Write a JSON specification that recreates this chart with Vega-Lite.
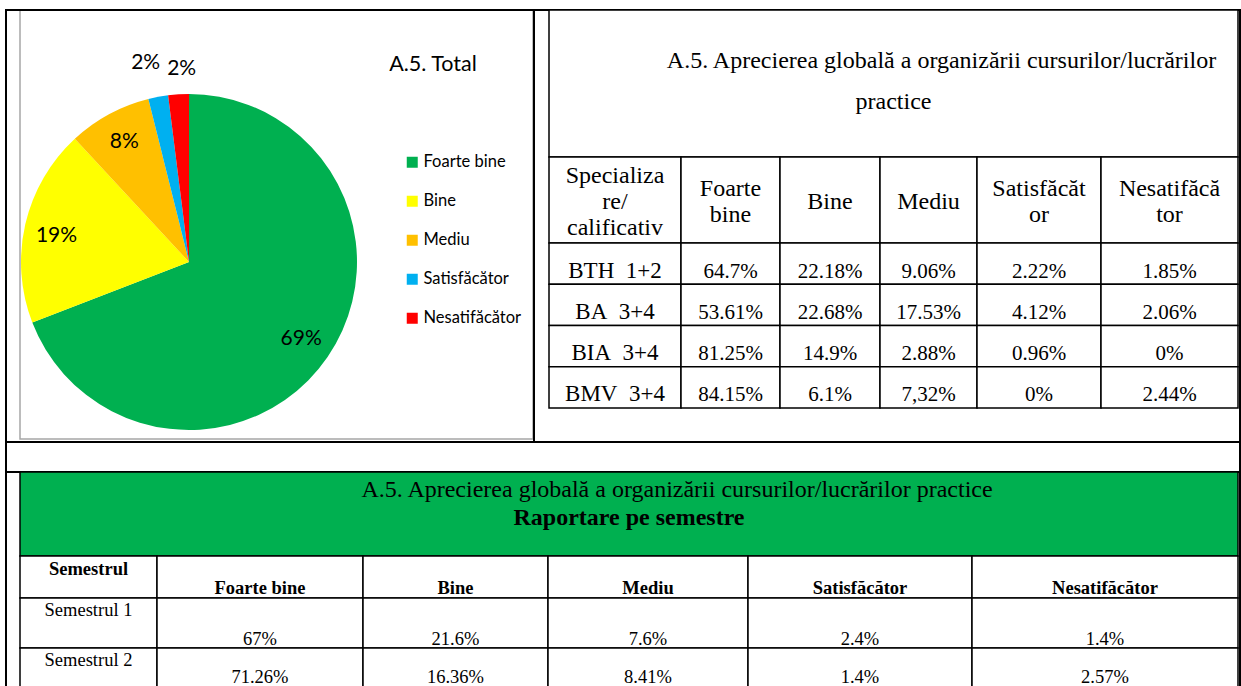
{
  "$schema": "https://vega.github.io/schema/vega-lite/v6.json",
  "width": 1241,
  "height": 686,
  "padding": 0,
  "autosize": {"type": "none"},
  "background": "white",
  "config": {"view": {"stroke": null}, "axis": {"disable": true}},
  "datasets": {
    "pie": [
      {"cat": "Foarte bine", "value": 69.13, "label": "69%", "ord": 1},
      {"cat": "Bine", "value": 18.98, "label": "19%", "ord": 2},
      {"cat": "Mediu", "value": 8.005, "label": "8%", "ord": 3},
      {"cat": "Satisfăcător", "value": 1.9, "label": "2%", "ord": 4},
      {"cat": "Nesatifăcător", "value": 1.985, "label": "2%", "ord": 5}
    ],
    "cells": [
      {"tbl": "R", "col": "Specializare/calificativ", "row": "hdr", "txt": "Specializa\nre/\ncalificativ"},
      {"tbl": "R", "col": "Foarte bine", "row": "hdr", "txt": "Foarte\nbine"},
      {"tbl": "R", "col": "Bine", "row": "hdr", "txt": "Bine"},
      {"tbl": "R", "col": "Mediu", "row": "hdr", "txt": "Mediu"},
      {"tbl": "R", "col": "Satisfăcător", "row": "hdr", "txt": "Satisfăcăt\nor"},
      {"tbl": "R", "col": "Nesatifăcător", "row": "hdr", "txt": "Nesatifăcă\ntor"},
      {"tbl": "R", "col": "Specializare/calificativ", "row": "BTH 1+2", "txt": "BTH\u00a0\u00a01+2"},
      {"tbl": "R", "col": "Foarte bine", "row": "BTH 1+2", "txt": "64.7%"},
      {"tbl": "R", "col": "Bine", "row": "BTH 1+2", "txt": "22.18%"},
      {"tbl": "R", "col": "Mediu", "row": "BTH 1+2", "txt": "9.06%"},
      {"tbl": "R", "col": "Satisfăcător", "row": "BTH 1+2", "txt": "2.22%"},
      {"tbl": "R", "col": "Nesatifăcător", "row": "BTH 1+2", "txt": "1.85%"},
      {"tbl": "R", "col": "Specializare/calificativ", "row": "BA 3+4", "txt": "BA\u00a0\u00a03+4"},
      {"tbl": "R", "col": "Foarte bine", "row": "BA 3+4", "txt": "53.61%"},
      {"tbl": "R", "col": "Bine", "row": "BA 3+4", "txt": "22.68%"},
      {"tbl": "R", "col": "Mediu", "row": "BA 3+4", "txt": "17.53%"},
      {"tbl": "R", "col": "Satisfăcător", "row": "BA 3+4", "txt": "4.12%"},
      {"tbl": "R", "col": "Nesatifăcător", "row": "BA 3+4", "txt": "2.06%"},
      {"tbl": "R", "col": "Specializare/calificativ", "row": "BIA 3+4", "txt": "BIA\u00a0\u00a03+4"},
      {"tbl": "R", "col": "Foarte bine", "row": "BIA 3+4", "txt": "81.25%"},
      {"tbl": "R", "col": "Bine", "row": "BIA 3+4", "txt": "14.9%"},
      {"tbl": "R", "col": "Mediu", "row": "BIA 3+4", "txt": "2.88%"},
      {"tbl": "R", "col": "Satisfăcător", "row": "BIA 3+4", "txt": "0.96%"},
      {"tbl": "R", "col": "Nesatifăcător", "row": "BIA 3+4", "txt": "0%"},
      {"tbl": "R", "col": "Specializare/calificativ", "row": "BMV 3+4", "txt": "BMV\u00a0\u00a03+4"},
      {"tbl": "R", "col": "Foarte bine", "row": "BMV 3+4", "txt": "84.15%"},
      {"tbl": "R", "col": "Bine", "row": "BMV 3+4", "txt": "6.1%"},
      {"tbl": "R", "col": "Mediu", "row": "BMV 3+4", "txt": "7,32%"},
      {"tbl": "R", "col": "Satisfăcător", "row": "BMV 3+4", "txt": "0%"},
      {"tbl": "R", "col": "Nesatifăcător", "row": "BMV 3+4", "txt": "2.44%"},
      {"tbl": "S", "col": "Semestrul", "row": "hdr", "txt": "Semestrul"},
      {"tbl": "S", "col": "Foarte bine", "row": "hdr", "txt": "Foarte bine"},
      {"tbl": "S", "col": "Bine", "row": "hdr", "txt": "Bine"},
      {"tbl": "S", "col": "Mediu", "row": "hdr", "txt": "Mediu"},
      {"tbl": "S", "col": "Satisfăcător", "row": "hdr", "txt": "Satisfăcător"},
      {"tbl": "S", "col": "Nesatifăcător", "row": "hdr", "txt": "Nesatifăcător"},
      {"tbl": "S", "col": "Semestrul", "row": "Semestrul 1", "txt": "Semestrul 1"},
      {"tbl": "S", "col": "Foarte bine", "row": "Semestrul 1", "txt": "67%"},
      {"tbl": "S", "col": "Bine", "row": "Semestrul 1", "txt": "21.6%"},
      {"tbl": "S", "col": "Mediu", "row": "Semestrul 1", "txt": "7.6%"},
      {"tbl": "S", "col": "Satisfăcător", "row": "Semestrul 1", "txt": "2.4%"},
      {"tbl": "S", "col": "Nesatifăcător", "row": "Semestrul 1", "txt": "1.4%"},
      {"tbl": "S", "col": "Semestrul", "row": "Semestrul 2", "txt": "Semestrul 2"},
      {"tbl": "S", "col": "Foarte bine", "row": "Semestrul 2", "txt": "71.26%"},
      {"tbl": "S", "col": "Bine", "row": "Semestrul 2", "txt": "16.36%"},
      {"tbl": "S", "col": "Mediu", "row": "Semestrul 2", "txt": "8.41%"},
      {"tbl": "S", "col": "Satisfăcător", "row": "Semestrul 2", "txt": "1.4%"},
      {"tbl": "S", "col": "Nesatifăcător", "row": "Semestrul 2", "txt": "2.57%"}
    ]
  },
  "resolve": {"scale": {"x": "independent", "y": "independent", "theta": "independent", "color": "independent"}},
  "layer": [
    {
      "data": {"values": [{}]},
      "mark": {"type": "rect", "fill": "white", "stroke": "#A6A6A6", "strokeWidth": 1.5},
      "encoding": {
        "x": {"datum": "box", "type": "nominal", "scale": {"range": [20, 533], "padding": 0}},
        "y": {"datum": "box", "type": "nominal", "scale": {"range": [10, 439], "padding": 0}}
      }
    },
    {
      "data": {"name": "pie"},
      "encoding": {
        "x": {"datum": "pie", "type": "nominal", "scale": {"range": [21, 357], "padding": 0}},
        "y": {"datum": "pie", "type": "nominal", "scale": {"range": [94, 430], "padding": 0}},
        "theta": {"field": "value", "type": "quantitative", "stack": true},
        "order": {"field": "ord", "type": "quantitative"}
      },
      "layer": [
        {
          "mark": {"type": "arc", "outerRadius": 168},
          "encoding": {
            "color": {
              "field": "cat", "type": "nominal",
              "sort": ["Foarte bine", "Bine", "Mediu", "Satisfăcător", "Nesatifăcător"],
              "scale": {"domain": ["Foarte bine", "Bine", "Mediu", "Satisfăcător", "Nesatifăcător"], "range": ["#00B050", "#FFFF00", "#FFC000", "#00B0F0", "#FF0000"]},
              "legend": {"orient": "none", "legendX": 404, "legendY": 154, "title": null, "symbolType": "square", "symbolSize": 121, "symbolStrokeWidth": 0, "labelFont": "Lato", "labelFontSize": 16.5, "labelColor": "black", "rowPadding": 22, "labelOffset": 3}
            }
          }
        },
        {
          "mark": {
            "type": "text",
            "radius": {"expr": "datum.value < 5 ? 198 : 136"},
            "dx": {"expr": "datum.cat == 'Satisfăcător' ? -7 : (datum.cat == 'Nesatifăcător' ? 5 : 0)"},
            "dy": {"expr": "datum.cat == 'Satisfăcător' ? -4 : (datum.cat == 'Nesatifăcător' ? 5 : (datum.cat == 'Bine' ? 5 : 0))"},
            "font": "Lato", "fontSize": 21
          },
          "encoding": {
            "text": {"field": "label"},
            "detail": {"field": "cat"},
            "color": {"value": "black"}
          }
        }
      ]
    },
    {
      "data": {"values": [{}]},
      "mark": {"type": "text", "text": "A.5. Total", "font": "Lato", "fontSize": 21.5, "fill": "black"},
      "encoding": {
        "x": {"datum": "t", "type": "nominal", "scale": {"range": [387, 479], "padding": 0}},
        "y": {"datum": "t", "type": "nominal", "scale": {"range": [50, 80], "padding": 0}}
      }
    },
    {
      "data": {"values": [{}]},
      "mark": {"type": "rect", "fill": "transparent", "stroke": "black", "strokeWidth": 2},
      "encoding": {
        "x": {"datum": "A", "type": "nominal", "scale": {"range": [6, 534], "padding": 0}},
        "y": {"datum": "A", "type": "nominal", "scale": {"range": [10, 442], "padding": 0}}
      }
    },
    {
      "data": {"values": [{}]},
      "mark": {"type": "rect", "fill": "transparent", "stroke": "black", "strokeWidth": 2},
      "encoding": {
        "x": {"datum": "B", "type": "nominal", "scale": {"range": [534, 1240], "padding": 0}},
        "y": {"datum": "B", "type": "nominal", "scale": {"range": [10, 442], "padding": 0}}
      }
    },
    {
      "data": {"values": [{}]},
      "mark": {"type": "rect", "fill": "transparent", "stroke": "black", "strokeWidth": 2},
      "encoding": {
        "x": {"datum": "C", "type": "nominal", "scale": {"range": [6, 1240], "padding": 0}},
        "y": {"datum": "C", "type": "nominal", "scale": {"range": [442, 472], "padding": 0}}
      }
    },
    {
      "data": {"values": [{}]},
      "mark": {"type": "rect", "fill": "transparent", "stroke": "black", "strokeWidth": 2},
      "encoding": {
        "x": {"datum": "D", "type": "nominal", "scale": {"range": [6, 1240], "padding": 0}},
        "y": {"datum": "D", "type": "nominal", "scale": {"range": [472, 720], "padding": 0}}
      }
    },
    {
      "data": {"values": [{}]},
      "encoding": {
        "x": {"datum": "RT", "type": "nominal", "scale": {"range": [549, 1238], "padding": 0}},
        "y": {"datum": "RT", "type": "nominal", "scale": {"range": [10, 157], "padding": 0}}
      },
      "layer": [
        {"mark": {"type": "rect", "fill": "white", "stroke": "black", "strokeWidth": 1.5}},
        {"mark": {"type": "text", "text": "A.5. Aprecierea globală a organizării cursurilor/lucrărilor", "font": "Liberation Serif", "fontSize": 24, "fill": "black", "dx": 48, "dy": -23}},
        {"mark": {"type": "text", "text": "practice", "font": "Liberation Serif", "fontSize": 24, "fill": "black", "dy": 18}}
      ]
    },
    {
      "data": {"name": "cells"},
      "transform": [{"filter": "datum.tbl == 'R' && datum.col == 'Specializare/calificativ'"}],
      "encoding": {"x": {"field": "col", "type": "nominal", "scale": {"range": [549, 681], "padding": 0}}},
      "layer": [
        {"transform": [{"filter": "datum.row == 'hdr'"}], "encoding": {"y": {"field": "row", "type": "nominal", "scale": {"range": [157, 243], "padding": 0}}},
         "layer": [
           {"mark": {"type": "rect", "fill": "white", "stroke": "black", "strokeWidth": 1.5}},
           {"mark": {"type": "text", "font": "Liberation Serif", "fontSize": 24, "lineBreak": "\n", "lineHeight": 26, "dy": -24, "fill": "black"}, "encoding": {"text": {"field": "txt"}}}
         ]},
        {"transform": [{"filter": "datum.row != 'hdr'"}], "encoding": {"y": {"field": "row", "type": "nominal", "sort": null, "scale": {"range": [243, 408], "padding": 0}}},
         "layer": [
           {"mark": {"type": "rect", "fill": "white", "stroke": "black", "strokeWidth": 1.5}},
           {"mark": {"type": "text", "font": "Liberation Serif", "fontSize": 23, "dy": 7, "fill": "black"}, "encoding": {"text": {"field": "txt"}}}
         ]}
      ],
      "resolve": {"scale": {"y": "independent"}}
    },
    {
      "data": {"name": "cells"},
      "transform": [{"filter": "datum.tbl == 'R' && datum.col == 'Foarte bine'"}],
      "encoding": {"x": {"field": "col", "type": "nominal", "scale": {"range": [681, 780], "padding": 0}}},
      "layer": [
        {"transform": [{"filter": "datum.row == 'hdr'"}], "encoding": {"y": {"field": "row", "type": "nominal", "scale": {"range": [157, 243], "padding": 0}}},
         "layer": [
           {"mark": {"type": "rect", "fill": "white", "stroke": "black", "strokeWidth": 1.5}},
           {"mark": {"type": "text", "font": "Liberation Serif", "fontSize": 24, "lineBreak": "\n", "lineHeight": 26, "dy": -11, "fill": "black"}, "encoding": {"text": {"field": "txt"}}}
         ]},
        {"transform": [{"filter": "datum.row != 'hdr'"}], "encoding": {"y": {"field": "row", "type": "nominal", "sort": null, "scale": {"range": [243, 408], "padding": 0}}},
         "layer": [
           {"mark": {"type": "rect", "fill": "white", "stroke": "black", "strokeWidth": 1.5}},
           {"mark": {"type": "text", "font": "Liberation Serif", "fontSize": 21, "dy": 8, "fill": "black"}, "encoding": {"text": {"field": "txt"}}}
         ]}
      ],
      "resolve": {"scale": {"y": "independent"}}
    },
    {
      "data": {"name": "cells"},
      "transform": [{"filter": "datum.tbl == 'R' && datum.col == 'Bine'"}],
      "encoding": {"x": {"field": "col", "type": "nominal", "scale": {"range": [780, 880], "padding": 0}}},
      "layer": [
        {"transform": [{"filter": "datum.row == 'hdr'"}], "encoding": {"y": {"field": "row", "type": "nominal", "scale": {"range": [157, 243], "padding": 0}}},
         "layer": [
           {"mark": {"type": "rect", "fill": "white", "stroke": "black", "strokeWidth": 1.5}},
           {"mark": {"type": "text", "font": "Liberation Serif", "fontSize": 24, "lineBreak": "\n", "lineHeight": 26, "dy": 2, "fill": "black"}, "encoding": {"text": {"field": "txt"}}}
         ]},
        {"transform": [{"filter": "datum.row != 'hdr'"}], "encoding": {"y": {"field": "row", "type": "nominal", "sort": null, "scale": {"range": [243, 408], "padding": 0}}},
         "layer": [
           {"mark": {"type": "rect", "fill": "white", "stroke": "black", "strokeWidth": 1.5}},
           {"mark": {"type": "text", "font": "Liberation Serif", "fontSize": 21, "dy": 8, "fill": "black"}, "encoding": {"text": {"field": "txt"}}}
         ]}
      ],
      "resolve": {"scale": {"y": "independent"}}
    },
    {
      "data": {"name": "cells"},
      "transform": [{"filter": "datum.tbl == 'R' && datum.col == 'Mediu'"}],
      "encoding": {"x": {"field": "col", "type": "nominal", "scale": {"range": [880, 977], "padding": 0}}},
      "layer": [
        {"transform": [{"filter": "datum.row == 'hdr'"}], "encoding": {"y": {"field": "row", "type": "nominal", "scale": {"range": [157, 243], "padding": 0}}},
         "layer": [
           {"mark": {"type": "rect", "fill": "white", "stroke": "black", "strokeWidth": 1.5}},
           {"mark": {"type": "text", "font": "Liberation Serif", "fontSize": 24, "lineBreak": "\n", "lineHeight": 26, "dy": 2, "fill": "black"}, "encoding": {"text": {"field": "txt"}}}
         ]},
        {"transform": [{"filter": "datum.row != 'hdr'"}], "encoding": {"y": {"field": "row", "type": "nominal", "sort": null, "scale": {"range": [243, 408], "padding": 0}}},
         "layer": [
           {"mark": {"type": "rect", "fill": "white", "stroke": "black", "strokeWidth": 1.5}},
           {"mark": {"type": "text", "font": "Liberation Serif", "fontSize": 21, "dy": 8, "fill": "black"}, "encoding": {"text": {"field": "txt"}}}
         ]}
      ],
      "resolve": {"scale": {"y": "independent"}}
    },
    {
      "data": {"name": "cells"},
      "transform": [{"filter": "datum.tbl == 'R' && datum.col == 'Satisfăcător'"}],
      "encoding": {"x": {"field": "col", "type": "nominal", "scale": {"range": [977, 1101], "padding": 0}}},
      "layer": [
        {"transform": [{"filter": "datum.row == 'hdr'"}], "encoding": {"y": {"field": "row", "type": "nominal", "scale": {"range": [157, 243], "padding": 0}}},
         "layer": [
           {"mark": {"type": "rect", "fill": "white", "stroke": "black", "strokeWidth": 1.5}},
           {"mark": {"type": "text", "font": "Liberation Serif", "fontSize": 24, "lineBreak": "\n", "lineHeight": 26, "dy": -11, "fill": "black"}, "encoding": {"text": {"field": "txt"}}}
         ]},
        {"transform": [{"filter": "datum.row != 'hdr'"}], "encoding": {"y": {"field": "row", "type": "nominal", "sort": null, "scale": {"range": [243, 408], "padding": 0}}},
         "layer": [
           {"mark": {"type": "rect", "fill": "white", "stroke": "black", "strokeWidth": 1.5}},
           {"mark": {"type": "text", "font": "Liberation Serif", "fontSize": 21, "dy": 8, "fill": "black"}, "encoding": {"text": {"field": "txt"}}}
         ]}
      ],
      "resolve": {"scale": {"y": "independent"}}
    },
    {
      "data": {"name": "cells"},
      "transform": [{"filter": "datum.tbl == 'R' && datum.col == 'Nesatifăcător'"}],
      "encoding": {"x": {"field": "col", "type": "nominal", "scale": {"range": [1101, 1238], "padding": 0}}},
      "layer": [
        {"transform": [{"filter": "datum.row == 'hdr'"}], "encoding": {"y": {"field": "row", "type": "nominal", "scale": {"range": [157, 243], "padding": 0}}},
         "layer": [
           {"mark": {"type": "rect", "fill": "white", "stroke": "black", "strokeWidth": 1.5}},
           {"mark": {"type": "text", "font": "Liberation Serif", "fontSize": 24, "lineBreak": "\n", "lineHeight": 26, "dy": -11, "fill": "black"}, "encoding": {"text": {"field": "txt"}}}
         ]},
        {"transform": [{"filter": "datum.row != 'hdr'"}], "encoding": {"y": {"field": "row", "type": "nominal", "sort": null, "scale": {"range": [243, 408], "padding": 0}}},
         "layer": [
           {"mark": {"type": "rect", "fill": "white", "stroke": "black", "strokeWidth": 1.5}},
           {"mark": {"type": "text", "font": "Liberation Serif", "fontSize": 21, "dy": 8, "fill": "black"}, "encoding": {"text": {"field": "txt"}}}
         ]}
      ],
      "resolve": {"scale": {"y": "independent"}}
    },
    {
      "data": {"values": [{}]},
      "encoding": {
        "x": {"datum": "G", "type": "nominal", "scale": {"range": [20, 1238], "padding": 0}},
        "y": {"datum": "G", "type": "nominal", "scale": {"range": [472, 556], "padding": 0}}
      },
      "layer": [
        {"mark": {"type": "rect", "fill": "#00B050", "stroke": "black", "strokeWidth": 1.5}},
        {"mark": {"type": "text", "text": "A.5. Aprecierea globală a organizării cursurilor/lucrărilor practice", "font": "Liberation Serif", "fontSize": 24, "fill": "black", "dx": 48, "dy": -24}},
        {"mark": {"type": "text", "text": "Raportare pe semestre", "font": "Liberation Serif", "fontSize": 24, "fontWeight": "bold", "fill": "black", "dy": 4}}
      ]
    },
    {
      "data": {"name": "cells"},
      "transform": [{"filter": "datum.tbl == 'S' && datum.col == 'Semestrul'"}],
      "encoding": {"x": {"field": "col", "type": "nominal", "scale": {"range": [20, 157], "padding": 0}}},
      "layer": [
        {"transform": [{"filter": "datum.row == 'hdr'"}], "encoding": {"y": {"field": "row", "type": "nominal", "bandPosition": 0, "scale": {"range": [556, 598], "padding": 0}}},
         "layer": [
           {"mark": {"type": "rect", "fill": "white", "stroke": "black", "strokeWidth": 1.5}},
           {"mark": {"type": "text", "font": "Liberation Serif", "fontSize": 18.5, "fontWeight": "bold", "baseline": "top", "dy": 4, "fill": "black"}, "encoding": {"text": {"field": "txt"}}}
         ]},
        {"transform": [{"filter": "datum.row != 'hdr'"}], "encoding": {"y": {"field": "row", "type": "nominal", "sort": null, "bandPosition": 0, "scale": {"range": [598, 698], "padding": 0}}},
         "layer": [
           {"mark": {"type": "rect", "fill": "white", "stroke": "black", "strokeWidth": 1.5}},
           {"mark": {"type": "text", "font": "Liberation Serif", "fontSize": 18.5, "baseline": "top", "dy": 3, "fill": "black"}, "encoding": {"text": {"field": "txt"}}}
         ]}
      ],
      "resolve": {"scale": {"y": "independent"}}
    },
    {
      "data": {"name": "cells"},
      "transform": [{"filter": "datum.tbl == 'S' && datum.col == 'Foarte bine'"}],
      "encoding": {"x": {"field": "col", "type": "nominal", "scale": {"range": [157, 363], "padding": 0}}},
      "layer": [
        {"transform": [{"filter": "datum.row == 'hdr'"}], "encoding": {"y": {"field": "row", "type": "nominal", "bandPosition": 1, "scale": {"range": [556, 598], "padding": 0}}},
         "layer": [
           {"mark": {"type": "rect", "fill": "white", "stroke": "black", "strokeWidth": 1.5}},
           {"mark": {"type": "text", "font": "Liberation Serif", "fontSize": 18.5, "fontWeight": "bold", "baseline": "alphabetic", "dy": -4, "fill": "black"}, "encoding": {"text": {"field": "txt"}}}
         ]},
        {"transform": [{"filter": "datum.row != 'hdr'"}], "encoding": {"y": {"field": "row", "type": "nominal", "sort": null, "bandPosition": 1, "scale": {"range": [598, 698], "padding": 0}}},
         "layer": [
           {"mark": {"type": "rect", "fill": "white", "stroke": "black", "strokeWidth": 1.5}},
           {"mark": {"type": "text", "font": "Liberation Serif", "fontSize": 18.5, "baseline": "alphabetic", "dy": {"expr": "datum.row == 'Semestrul 2' ? -15 : -3"}, "fill": "black"}, "encoding": {"text": {"field": "txt"}}}
         ]}
      ],
      "resolve": {"scale": {"y": "independent"}}
    },
    {
      "data": {"name": "cells"},
      "transform": [{"filter": "datum.tbl == 'S' && datum.col == 'Bine'"}],
      "encoding": {"x": {"field": "col", "type": "nominal", "scale": {"range": [363, 548], "padding": 0}}},
      "layer": [
        {"transform": [{"filter": "datum.row == 'hdr'"}], "encoding": {"y": {"field": "row", "type": "nominal", "bandPosition": 1, "scale": {"range": [556, 598], "padding": 0}}},
         "layer": [
           {"mark": {"type": "rect", "fill": "white", "stroke": "black", "strokeWidth": 1.5}},
           {"mark": {"type": "text", "font": "Liberation Serif", "fontSize": 18.5, "fontWeight": "bold", "baseline": "alphabetic", "dy": -4, "fill": "black"}, "encoding": {"text": {"field": "txt"}}}
         ]},
        {"transform": [{"filter": "datum.row != 'hdr'"}], "encoding": {"y": {"field": "row", "type": "nominal", "sort": null, "bandPosition": 1, "scale": {"range": [598, 698], "padding": 0}}},
         "layer": [
           {"mark": {"type": "rect", "fill": "white", "stroke": "black", "strokeWidth": 1.5}},
           {"mark": {"type": "text", "font": "Liberation Serif", "fontSize": 18.5, "baseline": "alphabetic", "dy": {"expr": "datum.row == 'Semestrul 2' ? -15 : -3"}, "fill": "black"}, "encoding": {"text": {"field": "txt"}}}
         ]}
      ],
      "resolve": {"scale": {"y": "independent"}}
    },
    {
      "data": {"name": "cells"},
      "transform": [{"filter": "datum.tbl == 'S' && datum.col == 'Mediu'"}],
      "encoding": {"x": {"field": "col", "type": "nominal", "scale": {"range": [548, 748], "padding": 0}}},
      "layer": [
        {"transform": [{"filter": "datum.row == 'hdr'"}], "encoding": {"y": {"field": "row", "type": "nominal", "bandPosition": 1, "scale": {"range": [556, 598], "padding": 0}}},
         "layer": [
           {"mark": {"type": "rect", "fill": "white", "stroke": "black", "strokeWidth": 1.5}},
           {"mark": {"type": "text", "font": "Liberation Serif", "fontSize": 18.5, "fontWeight": "bold", "baseline": "alphabetic", "dy": -4, "fill": "black"}, "encoding": {"text": {"field": "txt"}}}
         ]},
        {"transform": [{"filter": "datum.row != 'hdr'"}], "encoding": {"y": {"field": "row", "type": "nominal", "sort": null, "bandPosition": 1, "scale": {"range": [598, 698], "padding": 0}}},
         "layer": [
           {"mark": {"type": "rect", "fill": "white", "stroke": "black", "strokeWidth": 1.5}},
           {"mark": {"type": "text", "font": "Liberation Serif", "fontSize": 18.5, "baseline": "alphabetic", "dy": {"expr": "datum.row == 'Semestrul 2' ? -15 : -3"}, "fill": "black"}, "encoding": {"text": {"field": "txt"}}}
         ]}
      ],
      "resolve": {"scale": {"y": "independent"}}
    },
    {
      "data": {"name": "cells"},
      "transform": [{"filter": "datum.tbl == 'S' && datum.col == 'Satisfăcător'"}],
      "encoding": {"x": {"field": "col", "type": "nominal", "scale": {"range": [748, 972], "padding": 0}}},
      "layer": [
        {"transform": [{"filter": "datum.row == 'hdr'"}], "encoding": {"y": {"field": "row", "type": "nominal", "bandPosition": 1, "scale": {"range": [556, 598], "padding": 0}}},
         "layer": [
           {"mark": {"type": "rect", "fill": "white", "stroke": "black", "strokeWidth": 1.5}},
           {"mark": {"type": "text", "font": "Liberation Serif", "fontSize": 18.5, "fontWeight": "bold", "baseline": "alphabetic", "dy": -4, "fill": "black"}, "encoding": {"text": {"field": "txt"}}}
         ]},
        {"transform": [{"filter": "datum.row != 'hdr'"}], "encoding": {"y": {"field": "row", "type": "nominal", "sort": null, "bandPosition": 1, "scale": {"range": [598, 698], "padding": 0}}},
         "layer": [
           {"mark": {"type": "rect", "fill": "white", "stroke": "black", "strokeWidth": 1.5}},
           {"mark": {"type": "text", "font": "Liberation Serif", "fontSize": 18.5, "baseline": "alphabetic", "dy": {"expr": "datum.row == 'Semestrul 2' ? -15 : -3"}, "fill": "black"}, "encoding": {"text": {"field": "txt"}}}
         ]}
      ],
      "resolve": {"scale": {"y": "independent"}}
    },
    {
      "data": {"name": "cells"},
      "transform": [{"filter": "datum.tbl == 'S' && datum.col == 'Nesatifăcător'"}],
      "encoding": {"x": {"field": "col", "type": "nominal", "scale": {"range": [972, 1238], "padding": 0}}},
      "layer": [
        {"transform": [{"filter": "datum.row == 'hdr'"}], "encoding": {"y": {"field": "row", "type": "nominal", "bandPosition": 1, "scale": {"range": [556, 598], "padding": 0}}},
         "layer": [
           {"mark": {"type": "rect", "fill": "white", "stroke": "black", "strokeWidth": 1.5}},
           {"mark": {"type": "text", "font": "Liberation Serif", "fontSize": 18.5, "fontWeight": "bold", "baseline": "alphabetic", "dy": -4, "fill": "black"}, "encoding": {"text": {"field": "txt"}}}
         ]},
        {"transform": [{"filter": "datum.row != 'hdr'"}], "encoding": {"y": {"field": "row", "type": "nominal", "sort": null, "bandPosition": 1, "scale": {"range": [598, 698], "padding": 0}}},
         "layer": [
           {"mark": {"type": "rect", "fill": "white", "stroke": "black", "strokeWidth": 1.5}},
           {"mark": {"type": "text", "font": "Liberation Serif", "fontSize": 18.5, "baseline": "alphabetic", "dy": {"expr": "datum.row == 'Semestrul 2' ? -15 : -3"}, "fill": "black"}, "encoding": {"text": {"field": "txt"}}}
         ]}
      ],
      "resolve": {"scale": {"y": "independent"}}
    }
  ]
}
